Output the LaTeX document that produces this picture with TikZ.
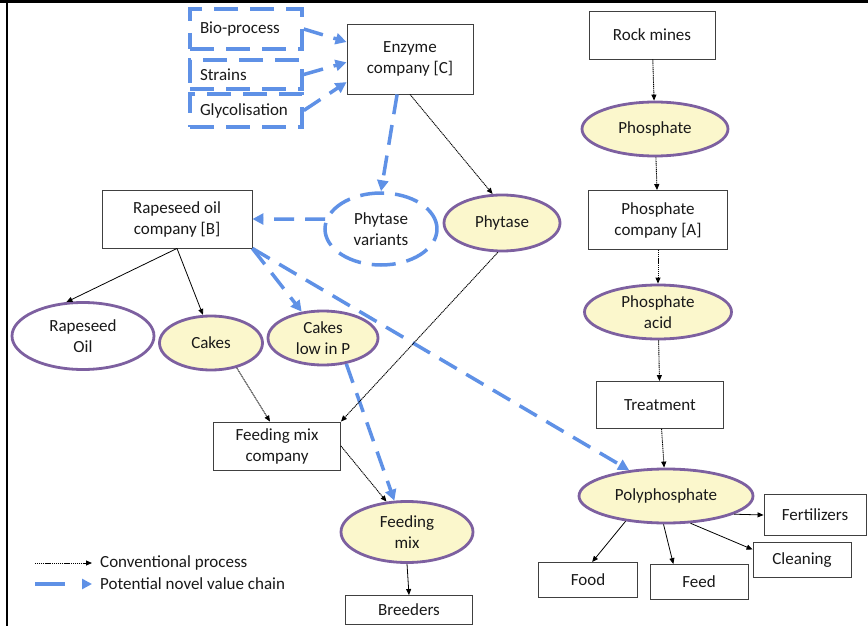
\documentclass[tikz,border=0pt]{standalone}
\usepackage{fontspec}
\setmainfont{Carlito}
\usetikzlibrary{shapes,arrows.meta,positioning}
\definecolor{chainblue}{RGB}{95,145,230}
\definecolor{prodfill}{RGB}{251,247,204}
\definecolor{prodline}{RGB}{125,96,160}

\begin{document}
\begin{tikzpicture}[x=1pt,y=-1pt,font=\fontsize{17}{21}\selectfont,text=black!90,
  box/.style={draw=black!75,line width=0.9pt,align=center,inner sep=2pt},
  dbox/.style={draw=chainblue,line width=3.5pt,dash pattern=on 24pt off 12pt,text width=92pt,align=left,inner xsep=10pt,inner ysep=0pt},
  prod/.style={ellipse,draw=prodline,line width=2.8pt,fill=prodfill,align=center,inner sep=0pt},
  newprod/.style={ellipse,draw=chainblue,line width=3.5pt,dash pattern=on 24pt off 11pt,fill=white,align=center,inner sep=0pt},
  conv/.style={-{Triangle[length=6pt,width=5pt]},draw=black,line width=0.9pt,dash pattern=on 1.2pt off 0.7pt},
  flow/.style={-{Triangle[length=6pt,width=5pt]},draw=black,line width=0.8pt},
  novel/.style={-{Triangle[length=11pt,width=11pt]},draw=chainblue,line width=3.5pt,dash pattern=on 20pt off 11pt}]
  \useasboundingbox (0,0) rectangle (868,626);
  \draw[line width=3pt] (0,1.5) -- (868,1.5);
  \draw[line width=2.5pt] (7,0) -- (7,626);

  % enzyme side
  \node[dbox,minimum height=40pt] (bio) at (246,29) {Bio-process};
  \node[dbox,minimum height=29pt] (strains) at (246,74.5) {Strains};
  \node[dbox,minimum height=33pt] (glyco) at (246,110.5) {Glycolisation};
  \node[box,minimum width=126pt,minimum height=70pt] (enzyme) at (410,59) {Enzyme\\company [C]};
  \node[prod,minimum width=116pt,minimum height=56pt] (phytase) at (502,223) {Phytase};
  \node[newprod,minimum width=112pt,minimum height=72pt] (pvar) at (381,229) {Phytase\\variants};

  % rapeseed side
  \node[box,minimum width=150pt,minimum height=58pt] (rapeco) at (177,219) {Rapeseed oil\\company [B]};
  \node[prod,fill=white,minimum width=142pt,minimum height=67pt] (roil) at (83,336) {Rapeseed\\Oil};
  \node[prod,minimum width=103pt,minimum height=54pt] (cakes) at (211,343) {Cakes};
  \node[prod,minimum width=110pt,minimum height=54pt] (cakeslow) at (323,338) {Cakes\\low in P};
  \node[box,minimum width=127pt,minimum height=48pt] (fmc) at (277,446) {Feeding mix\\company};
  \node[prod,minimum width=132pt,minimum height=61pt] (fmix) at (407,532) {Feeding\\mix};
  \node[box,minimum width=127pt,minimum height=29pt] (breeders) at (409,610) {Breeders};

  % phosphate side
  \node[box,minimum width=126pt,minimum height=48pt] (rock) at (652,35) {Rock mines};
  \node[prod,minimum width=146pt,minimum height=54pt] (phosphate) at (655,129) {Phosphate};
  \node[box,minimum width=139pt,minimum height=59pt] (phco) at (658,220) {Phosphate\\company [A]};
  \node[prod,minimum width=147pt,minimum height=54pt] (acid) at (658,312) {Phosphate\\acid};
  \node[box,minimum width=127pt,minimum height=47pt] (treat) at (660,405) {Treatment};
  \node[prod,minimum width=174pt,minimum height=54pt] (poly) at (666,496) {Polyphosphate};
  \node[box,minimum width=102pt,minimum height=41pt] (fert) at (815,515) {Fertilizers};
  \node[box,minimum width=98pt,minimum height=35pt] (clean) at (802,560) {Cleaning};
  \node[box,minimum width=99pt,minimum height=35pt] (food) at (588,580) {Food};
  \node[box,minimum width=98pt,minimum height=35pt] (feed) at (699,582) {Feed};

  % legend
  \coordinate (leg1) at (35,563);
  \coordinate (leg2) at (35,584);
  \node[anchor=west,inner sep=3pt] (conlab) at (97,563) {Conventional process};
  \node[anchor=west,inner sep=3pt] (novlab) at (97,584) {Potential novel value chain};

  \path
  (bio.east) edge[novel] (enzyme.165)
  (strains.east) edge[novel] (enzyme.183)
  (glyco.east) edge[novel] (enzyme.200)
  (enzyme.250) edge[novel] (pvar.north)
  (pvar.170) edge[novel] (rapeco.east)
  (rapeco.south east) edge[novel] (cakeslow.129)
  (rapeco.south east) edge[novel] (poly.145)
  (cakeslow.312) edge[novel] (fmix.112)
  (leg2) edge[novel,-{Triangle[length=10pt,width=10pt]},dash pattern=on 30pt off 20pt,shorten >=5pt] (novlab)
  ;

  \path
  (enzyme.south) edge[conv] (phytase.108)
  (phytase.262) edge[conv] (fmc.north east)
  (cakes.316) edge[conv] (fmc.106)
  (fmc.east) edge[conv] (fmix.124)
  (rock) edge[conv] (phosphate)
  (phosphate) edge[conv] (phco)
  (phco) edge[conv] (acid)
  (acid) edge[conv] (treat)
  (treat) edge[conv] (poly)
  (leg1) edge[conv,shorten >=5pt] (conlab)
  ;

  \path
  (rapeco.south) edge[flow] (roil.116)
  (rapeco.south) edge[flow] (cakes.106)
  (fmix.south) edge[flow] (breeders.north)
  (poly.345) edge[flow] (fert.west)
  (poly.312) edge[flow] (clean.168)
  (poly.265) edge[flow] (feed.145)
  (poly.212) edge[flow] (food.77)
  ;
\end{tikzpicture}
\end{document}
